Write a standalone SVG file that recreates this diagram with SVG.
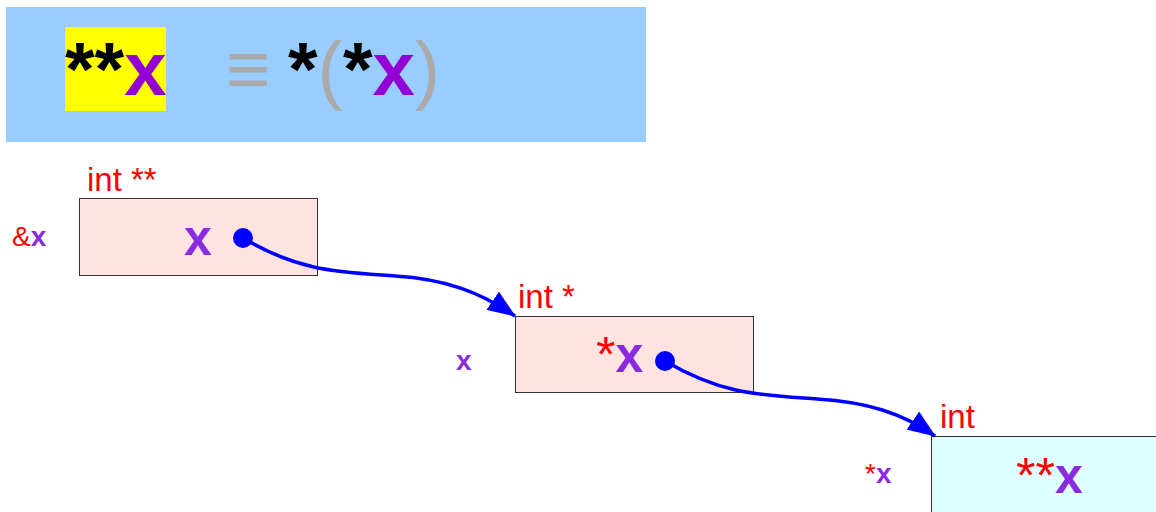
<svg xmlns="http://www.w3.org/2000/svg" width="1156" height="512" viewBox="0 0 1156 512">
<style>
.lbl{font-family:"Liberation Sans",Arial,sans-serif;fill:#ff0000;}
.pur{fill:#8a2be2;font-weight:bold;}
.big{font-family:"Liberation Sans",Arial,sans-serif;font-size:76px;font-weight:bold;}
.node1{fill:#fee3e0;stroke:#333;stroke-width:1;}
.node3{fill:#dfffff;stroke:#333;stroke-width:1;}
.conn{fill:none;stroke:#0000ff;stroke-width:3.5;}
.val{font-family:"Liberation Sans",Arial,sans-serif;font-size:50px;font-weight:bold;}
.star{fill:#ff0000;font-weight:normal;}
</style>
<defs>
<marker id="arr" markerUnits="userSpaceOnUse" markerWidth="28" markerHeight="22" refX="27" refY="11" orient="auto">
<path d="M0,0 L28,11 L0,22 z" fill="#0000ff"/>
</marker>
</defs>
<g id="banner">
<rect x="6" y="7" width="640" height="135" fill="#99ccff"/>
<rect x="65" y="27" width="101" height="84" fill="#ffff00"/>
<text class="big" x="65" y="95"><tspan fill="#000">**</tspan><tspan fill="#9400d3">x</tspan></text>
<text class="big" x="248" y="95" text-anchor="middle" fill="#aaaaaa">≡</text>
<text class="big" x="288" y="95"><tspan fill="#000">*</tspan><tspan fill="#aaaaaa" font-weight="normal">(</tspan><tspan fill="#000">*</tspan><tspan fill="#9400d3">x</tspan><tspan fill="#aaaaaa" font-weight="normal">)</tspan></text>
</g>
<g id="node-ptrptr">
<rect class="node1" x="79.5" y="198.5" width="238" height="77"/>
<text class="lbl" x="87" y="191" font-size="33">int **</text>
<text class="lbl" x="12" y="246" font-size="28">&amp;<tspan class="pur">x</tspan></text>
<text class="val pur" x="184" y="255">x</text>
<circle cx="243" cy="238" r="10" fill="#0000ff"/>
</g>
<g id="node-ptr">
<rect class="node1" x="515.5" y="316.5" width="238" height="76"/>
<text class="lbl" x="518" y="308" font-size="33">int *</text>
<text class="lbl pur" x="456" y="370" font-size="28">x</text>
<text class="val" x="596" y="372"><tspan class="star">*</tspan><tspan fill="#8a2be2">x</tspan></text>
<circle cx="665" cy="361" r="10" fill="#0000ff"/>
</g>
<g id="node-int">
<rect class="node3" x="931.5" y="436.5" width="240" height="90"/>
<text class="lbl" x="940" y="428" font-size="33">int</text>
<text class="lbl" x="865" y="483" font-size="28">*<tspan class="pur">x</tspan></text>
<text class="val" x="1016" y="493"><tspan class="star">**</tspan><tspan fill="#8a2be2">x</tspan></text>
</g>
<g id="connectors">
<path class="conn" marker-end="url(#arr)" d="M243,238 C300,272 340,272 395,276 C445,279 480,292 515,316"/>
<path class="conn" marker-end="url(#arr)" d="M665,361 C722,395 762,395 817,399 C867,402 902,413 935,436"/>
</g>
</svg>
